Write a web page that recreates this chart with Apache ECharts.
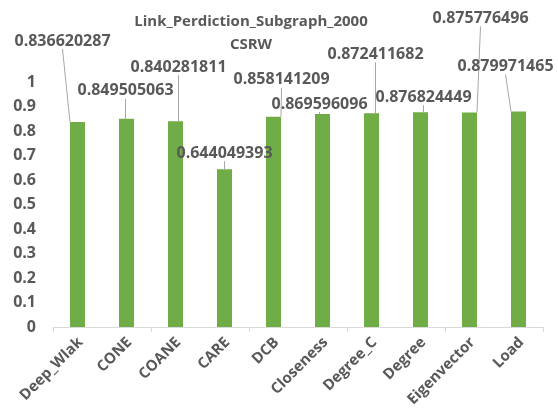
<!DOCTYPE html>
<html>
<head>
<meta charset="utf-8">
<script src="https://cdn.jsdelivr.net/npm/echarts@6/dist/echarts.min.js"></script>
<style>
  html, body { margin: 0; padding: 0; background: #fff; }
  #chart { width: 558px; height: 418px; }
</style>
</head>
<body>
<div id="chart"></div>
<script>
// Method names and their link-prediction scores
const methods = ['Deep_Wlak', 'CONE', 'COANE', 'CARE', 'DCB', 'Closeness', 'Degree_C', 'Degree', 'Eigenvector', 'Load'];
const scores = [0.836620287, 0.849505063, 0.840281811, 0.644049393, 0.858141209, 0.869596096, 0.872411682, 0.876824449, 0.875776496, 0.879971465];
const yTicks = { min: 0, max: 1, interval: 0.1 };

// Offsets that move crowded value labels away from their bars
const labelShift = [
  [-15, -68], [-1, -15], [3, -41], [0, -3], [8, -24],
  [-3, 3], [4, -46], [3, -2], [11, -81], [-13, -32]
];

const textGray = '#595959';
const font = '"Open Sans", "Liberation Sans", sans-serif';

const chart = echarts.init(document.getElementById('chart'));
chart.setOption({
  animation: false,
  title: {
    text: 'Link_Perdiction_Subgraph_2000\nCSRW',
    left: 246,
    top: 5,
    textAlign: 'center',
    textStyle: { fontFamily: font, fontWeight: 'bold', fontSize: 15, color: textGray, lineHeight: 23 }
  },
  grid: { left: 53, right: 15, top: 82, bottom: 91 },
  xAxis: {
    type: 'category',
    data: methods,
    axisLine: { lineStyle: { color: '#d9d9d9', width: 1 } },
    axisTick: { show: true, length: 5, lineStyle: { color: '#d9d9d9' } },
    // category names are drawn below as slanted text
    axisLabel: { show: false }
  },
  yAxis: {
    type: 'value',
    min: yTicks.min, max: yTicks.max, interval: yTicks.interval,
    axisLine: { show: false },
    axisTick: { show: false },
    splitLine: { show: false },
    axisLabel: {
      margin: 17,
      fontFamily: font, fontWeight: 'bold', fontSize: 16, color: textGray,
      formatter: v => (Math.round(v * 10) / 10).toString()
    }
  },
  series: [{
    type: 'bar',
    data: scores,
    barWidth: 15,
    itemStyle: { color: '#70ad47' },
    label: {
      show: true,
      position: 'top',
      distance: 5,
      fontFamily: font, fontWeight: 'bold', fontSize: 16, color: textGray,
      formatter: p => String(p.value)
    },
    labelLine: { show: true, lineStyle: { color: '#a6a6a6', width: 1 } },
    labelLayout: p => {
      const s = labelShift[p.dataIndex];
      return { dx: s[0], dy: s[1] };
    }
  }]
});

// Slanted category names, anchored at each category's position on the x axis
const axisY = chart.convertToPixel({ yAxisIndex: 0 }, 0);
chart.setOption({
  graphic: methods.map(name => ({
    type: 'text',
    x: chart.convertToPixel({ xAxisIndex: 0 }, name) + 3,
    y: axisY + 13,
    rotation: Math.PI / 4,
    silent: true,
    style: {
      text: name,
      align: 'right',
      verticalAlign: 'middle',
      font: 'bold 15px ' + font,
      fill: textGray
    }
  }))
});
</script>
</body>
</html>
